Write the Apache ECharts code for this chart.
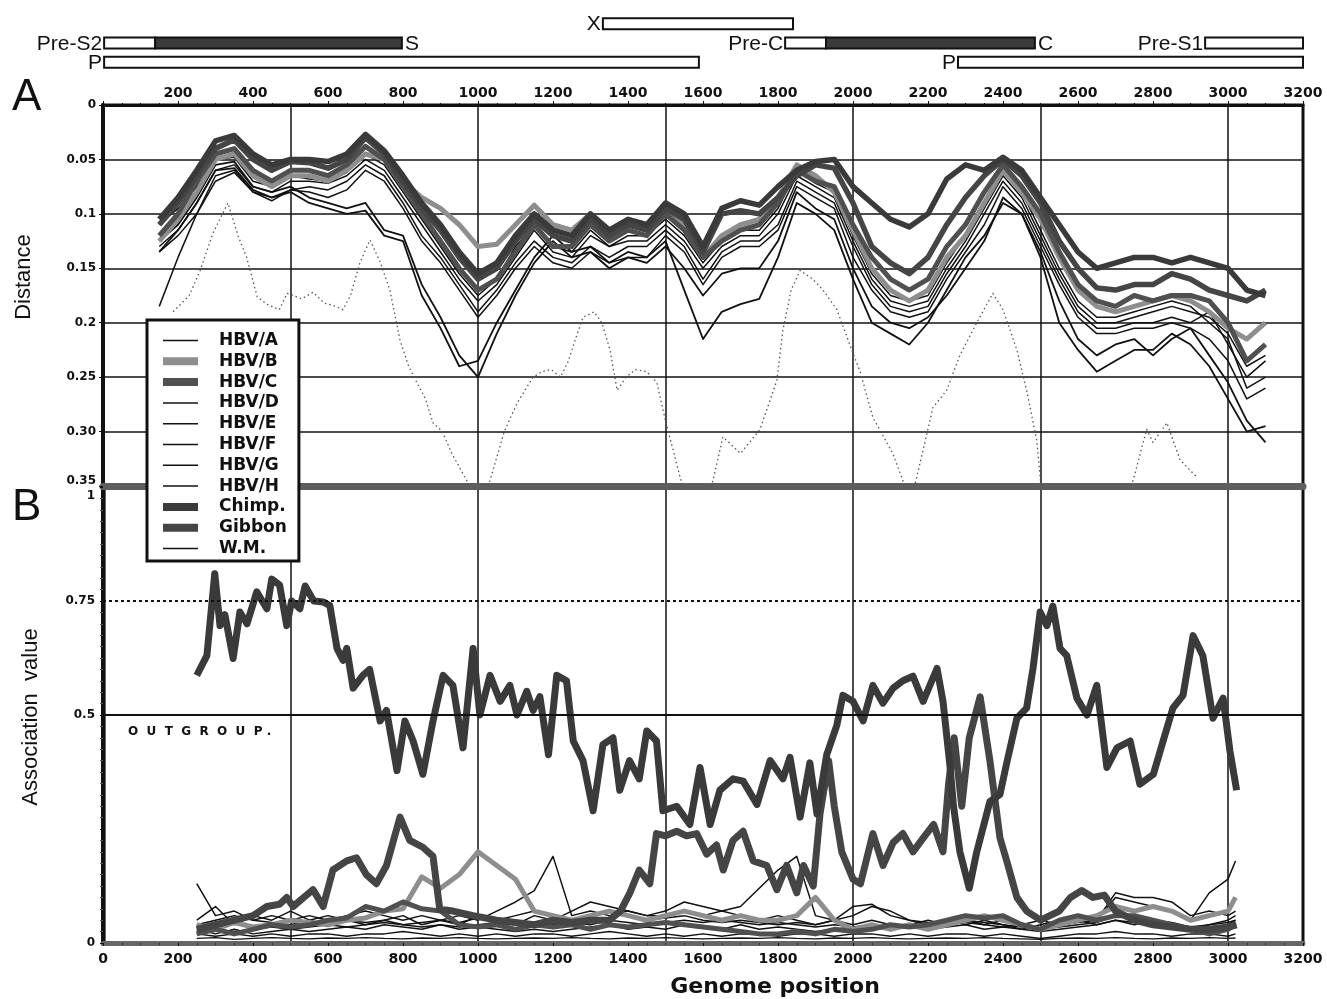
<!DOCTYPE html>
<html><head><meta charset="utf-8">
<script src="https://cdn.jsdelivr.net/npm/echarts@6.0.0/dist/echarts.min.js"></script>
<style>html,body{margin:0;padding:0;background:#fff;}#c{width:1327px;height:999px;}</style>
</head><body><div id="c"></div>
<script>
// ---------- legend / series names ----------
const seriesNames = ['HBV/A','HBV/B','HBV/C','HBV/D','HBV/E','HBV/F','HBV/G','HBV/H','Chimp.','Gibbon','W.M.'];

// ---------- tick labels ----------
const yLabelsA = ['0','0.05','0.1','0.15','0.2','0.25','0.30','0.35'];
const yLabelsB = ['0','','0.5','0.75','1'];

// ---------- gene map (genome positions) ----------
const geneLabel = ['X','Pre-S2','S','P','Pre-C','C','Pre-S1','P'];
const geneStart = [1333, 3, 139, 3, 1819, 1928, 2939, 2280];
const geneEnd   = [1840, 139, 797, 1589, 1928, 2485, 3200, 3200];
const geneRow   = [0, 1, 1, 2, 1, 1, 1, 2];
const geneDark  = [0, 0, 1, 0, 0, 1, 0, 0];
const geneLabelSide = ['left','left','right','left','left','right','left','left'];

// ---------- Panel A: distance ----------
const xsA = [150,200,250,300,350,400,450,500,550,600,
 650,700,750,800,850,900,950,1000,1050,1100,
 1150,1200,1250,1300,1350,1400,1450,1500,1550,1600,
 1650,1700,1750,1800,1850,1900,1950,2000,2050,2100,
 2150,2200,2250,2300,2350,2400,2450,2500,2550,2600,
 2650,2700,2750,2800,2850,2900,2950,3000,3050,3100];
const distA = [.13,.115,.09,.06,.055,.075,.08,.07,.07,.072,
 .065,.05,.06,.085,.11,.135,.16,.18,.165,.14,
 .115,.135,.14,.12,.13,.125,.125,.11,.125,.15,
 .13,.12,.12,.1,.065,.075,.085,.125,.16,.18,
 .185,.18,.15,.125,.095,.065,.085,.12,.155,.185,
 .2,.2,.195,.19,.185,.19,.195,.21,.24,.23];
const distB = [.125,.105,.08,.05,.045,.065,.075,.065,.065,.07,
 .06,.045,.05,.07,.085,.095,.11,.13,.128,.11,
 .092,.11,.115,.1,.115,.105,.11,.095,.11,.14,
 .12,.11,.105,.085,.055,.065,.08,.115,.15,.17,
 .18,.17,.14,.12,.09,.06,.08,.105,.14,.17,
 .185,.19,.185,.18,.175,.18,.19,.205,.215,.2];
const distC = [.12,.1,.07,.045,.04,.06,.07,.06,.06,.065,
 .055,.038,.05,.075,.1,.125,.15,.17,.16,.135,
 .11,.13,.13,.11,.125,.115,.12,.1,.115,.14,
 .125,.115,.11,.09,.06,.07,.075,.11,.14,.16,
 .17,.16,.13,.11,.08,.055,.075,.1,.135,.165,
 .18,.185,.175,.18,.175,.175,.18,.2,.235,.22];
const distD = [.135,.12,.1,.07,.062,.08,.088,.078,.075,.078,
 .07,.055,.065,.09,.12,.14,.165,.19,.17,.145,
 .125,.14,.145,.13,.14,.13,.13,.115,.13,.16,
 .135,.125,.125,.11,.07,.08,.09,.13,.165,.185,
 .19,.185,.155,.13,.1,.07,.09,.125,.16,.19,
 .205,.205,.2,.2,.195,.2,.19,.22,.25,.235];
const distE = [.11,.095,.075,.05,.048,.07,.075,.065,.068,.07,
 .062,.045,.055,.08,.105,.13,.155,.175,.16,.13,
 .11,.13,.135,.115,.13,.12,.12,.105,.12,.145,
 .125,.115,.115,.095,.06,.072,.08,.12,.155,.175,
 .18,.175,.145,.12,.09,.06,.08,.115,.15,.18,
 .195,.195,.19,.185,.18,.185,.2,.215,.26,.25];
const distF = [.135,.115,.09,.06,.058,.078,.085,.08,.09,.095,
 .1,.097,.12,.125,.175,.205,.24,.235,.2,.17,
 .14,.12,.135,.13,.145,.135,.14,.125,.17,.215,
 .19,.183,.178,.14,.09,.1,.115,.16,.2,.21,
 .22,.2,.17,.14,.12,.09,.1,.14,.2,.225,
 .245,.235,.225,.225,.21,.22,.24,.27,.3,.295];
const distG = [.185,.14,.1,.065,.06,.08,.085,.078,.08,.085,
 .078,.06,.07,.095,.125,.145,.17,.195,.175,.15,
 .13,.145,.15,.135,.145,.14,.14,.12,.135,.165,
 .14,.13,.13,.115,.075,.085,.095,.14,.17,.19,
 .195,.19,.16,.135,.11,.075,.095,.13,.165,.195,
 .21,.21,.205,.205,.2,.205,.215,.235,.27,.26];
const distH = [.125,.11,.085,.055,.052,.075,.08,.075,.085,.09,
 .095,.09,.115,.12,.165,.195,.23,.25,.21,.175,
 .145,.125,.14,.135,.15,.14,.145,.13,.15,.175,
 .155,.15,.15,.125,.08,.095,.105,.15,.185,.2,
 .205,.195,.175,.15,.125,.085,.1,.135,.18,.215,
 .23,.22,.215,.23,.215,.205,.23,.255,.29,.31];
const distChimp = [.105,.085,.06,.033,.028,.045,.055,.05,.05,.052,
 .045,.027,.042,.065,.09,.11,.135,.155,.145,.12,
 .1,.115,.12,.1,.115,.105,.11,.09,.1,.13,
 .095,.088,.092,.075,.06,.052,.05,.075,.09,.105,
 .112,.1,.068,.055,.06,.048,.06,.085,.11,.135,
 .15,.145,.14,.14,.145,.14,.145,.15,.17,.175];
const distGibbon = [.11,.09,.065,.04,.032,.05,.06,.052,.053,.058,
 .05,.03,.045,.07,.095,.115,.14,.16,.15,.125,
 .105,.12,.125,.105,.12,.11,.115,.095,.105,.135,
 .1,.097,.1,.085,.065,.055,.058,.09,.13,.145,
 .155,.14,.11,.085,.065,.05,.065,.09,.125,.15,
 .168,.17,.165,.165,.155,.16,.17,.175,.18,.17];
const wmXA = [187,230,259,293,333,360,383,411,437,470,
 491,530,560,590,613,640,660,685,712,740,
 765,792,815,837,860,880,905,930,970,1000,
 1032,1070,1104,1147,1170,1195,1220,1240,1260,1280,
 1310,1330,1352,1371,1395,1420,1450,1477,1500,1530,
 1560,1600,1630,1653,1700,1752,1797,1813,1835,1859,
 1893,1920,1957,2000,2019,2053,2106,2133,2150,2170,
 2213,2250,2285,2330,2373,2400,2437,2463,2490,2500,
 2520,2700,2747,2783,2800,2837,2872,2917];
const wmYA = [.19,.175,.152,.118,.09,.12,.14,.176,.183,.188,
 .173,.178,.172,.182,.184,.188,.175,.145,.124,.145,
 .17,.216,.24,.255,.27,.292,.3,.32,.345,.37,
 .345,.3,.274,.25,.245,.243,.25,.236,.215,.195,
 .19,.2,.225,.262,.25,.243,.245,.255,.29,.33,
 .37,.38,.34,.305,.32,.298,.253,.207,.17,.152,
 .16,.17,.188,.228,.245,.287,.32,.345,.37,.342,
 .278,.262,.23,.2,.173,.188,.225,.262,.308,.345,
 .38,.38,.345,.298,.31,.292,.326,.342];

// ---------- Panel B: association value ----------
const xsB = [250,300,350,400,450,500,550,600,650,700,
 750,800,850,900,950,1000,1050,1100,1150,1200,
 1250,1300,1350,1400,1450,1500,1550,1600,1650,1700,
 1750,1800,1850,1900,1950,2000,2050,2100,2150,2200,
 2250,2300,2350,2400,2450,2500,2550,2600,2650,2700,
 2750,2800,2850,2900,2950,3000,3020];
const assocA = [.13,.06,.07,.05,.06,.05,.06,.05,.06,.07,
 .06,.05,.06,.05,.06,.05,.07,.09,.115,.19,
 .06,.07,.06,.07,.06,.06,.07,.06,.07,.06,
 .05,.06,.05,.04,.05,.04,.05,.04,.04,.05,
 .04,.05,.04,.05,.04,.05,.04,.05,.04,.05,
 .04,.05,.04,.03,.03,.04,.05];
const assocB = [.04,.03,.045,.035,.04,.05,.045,.04,.05,.055,
 .07,.075,.145,.12,.15,.2,.17,.14,.07,.06,
 .05,.06,.07,.06,.05,.06,.07,.06,.05,.06,
 .05,.05,.06,.1,.05,.03,.04,.03,.04,.03,
 .04,.05,.06,.05,.04,.03,.04,.05,.06,.08,
 .07,.08,.07,.05,.06,.07,.1];
const assocC = [.02,.03,.02,.03,.04,.035,.04,.05,.055,.08,
 .07,.09,.075,.07,.04,.035,.04,.03,.04,.035,
 .04,.03,.04,.035,.04,.045,.04,.035,.03,.025,
 .02,.02,.025,.02,.03,.025,.03,.04,.035,.04,
 .05,.06,.055,.06,.04,.03,.05,.06,.05,.06,
 .06,.05,.04,.03,.02,.03,.04];
const assocD = [.05,.08,.04,.06,.05,.07,.05,.04,.05,.04,
 .05,.06,.04,.05,.04,.06,.05,.04,.06,.05,
 .07,.09,.08,.07,.06,.07,.09,.08,.07,.08,
 .12,.16,.19,.06,.05,.06,.08,.07,.05,.04,
 .05,.04,.05,.04,.03,.04,.05,.06,.05,.1,
 .09,.08,.07,.05,.11,.14,.18];
const assocE = [.03,.02,.03,.02,.025,.03,.025,.03,.035,.03,
 .04,.035,.03,.04,.03,.035,.03,.025,.03,.025,
 .03,.035,.04,.03,.035,.03,.04,.035,.03,.04,
 .03,.035,.03,.025,.03,.035,.03,.03,.035,.03,
 .035,.04,.03,.035,.03,.025,.03,.035,.04,.05,
 .045,.04,.035,.03,.04,.05,.06];
const assocF = [.02,.015,.02,.015,.02,.015,.02,.02,.015,.02,
 .02,.025,.02,.015,.02,.015,.02,.015,.02,.02,
 .015,.02,.025,.02,.015,.02,.015,.02,.015,.02,
 .02,.015,.02,.02,.015,.02,.02,.015,.02,.015,
 .02,.02,.015,.02,.015,.01,.015,.02,.02,.025,
 .02,.02,.015,.02,.02,.015,.02];
const assocG = [.04,.05,.06,.05,.045,.04,.05,.06,.05,.045,
 .05,.04,.045,.05,.045,.055,.05,.06,.07,.06,
 .05,.06,.07,.06,.05,.055,.06,.05,.045,.05,
 .045,.04,.045,.04,.05,.08,.085,.06,.05,.045,
 .04,.05,.045,.04,.035,.03,.04,.045,.05,.11,
 .1,.1,.09,.06,.07,.06,.07];
const assocH = [.025,.03,.025,.03,.035,.03,.035,.04,.035,.04,
 .045,.04,.035,.04,.035,.04,.045,.04,.035,.04,
 .045,.04,.05,.045,.04,.045,.05,.045,.05,.045,
 .04,.045,.04,.035,.04,.035,.04,.035,.04,.035,
 .04,.045,.04,.035,.04,.03,.035,.04,.045,.06,
 .055,.05,.045,.035,.04,.045,.05];
const assocWM = [.01,.012,.008,.01,.012,.01,.009,.011,.01,.012,
 .01,.009,.011,.01,.012,.01,.009,.01,.011,.01,
 .012,.01,.009,.011,.01,.012,.01,.009,.01,.011,
 .01,.012,.01,.009,.011,.01,.012,.01,.009,.01,
 .011,.01,.012,.01,.009,.008,.01,.011,.01,.012,
 .01,.009,.011,.01,.012,.01,.011];
const chimpBX = [250,277,298,312,325,347,365,384,410,437,
 450,471,490,503,525,539,562,587,605,624,
 640,650,667,693,711,739,756,784,805,827,
 853,880,907,933,960,987,1005,1032,1059,1085,
 1104,1130,1147,1165,1188,1210,1236,1254,1280,1307,
 1333,1360,1378,1404,1430,1450,1476,1493,1530,1565,
 1592,1619,1645,1680,1707,1744,1779,1813,1832,1859,
 1885,1904,1930,1957,1973,2000,2027,2053,2080,2107,
 2133,2160,2187,2224,2240,2259,2268,2285,2310,2330,
 2365,2392,2410,2437,2463,2480,2499,2517,2533,2552,
 2570,2597,2624,2650,2677,2704,2739,2765,2801,2827,
 2853,2880,2907,2933,2960,2987,3005,3023];
const chimpBY = [.587,.63,.81,.696,.72,.624,.726,.70,.77,.733,
 .798,.785,.696,.75,.733,.783,.75,.748,.74,.646,
 .62,.646,.559,.587,.6,.487,.51,.378,.487,.443,
 .37,.487,.587,.565,.428,.646,.5,.587,.53,.565,
 .5,.552,.51,.54,.413,.587,.575,.443,.4,.29,
 .435,.45,.335,.4,.36,.465,.443,.29,.3,.26,
 .385,.26,.335,.36,.355,.304,.4,.36,.407,.276,
 .395,.283,.413,.478,.543,.53,.487,.565,.526,.559,
 .575,.585,.53,.602,.53,.385,.3,.2,.12,.2,
 .31,.326,.395,.493,.515,.602,.726,.696,.739,.646,
 .63,.537,.5,.565,.385,.428,.443,.348,.37,.443,
 .515,.543,.674,.63,.493,.537,.422,.335];
const gibbonBX = [250,300,350,400,437,471,490,507,560,587,
 613,650,676,702,729,756,792,818,853,880,
 898,933,987,1050,1100,1150,1200,1250,1300,1350,
 1380,1405,1430,1458,1476,1500,1530,1556,1583,1610,
 1636,1654,1680,1707,1734,1770,1797,1823,1850,1868,
 1894,1912,1935,1950,1970,2000,2020,2053,2080,2107,
 2133,2160,2187,2215,2240,2255,2270,2290,2310,2339,
 2365,2392,2410,2437,2463,2500,2550,2580,2610,2640,
 2670,2700,2750,2800,2850,2900,2950,3000,3023];
const gibbonBY = [.03,.04,.05,.06,.08,.085,.1,.08,.117,.08,
 .16,.18,.187,.15,.13,.17,.276,.225,.21,.19,
 .074,.07,.06,.05,.045,.04,.05,.045,.05,.05,
 .07,.11,.16,.13,.24,.235,.245,.235,.24,.195,
 .215,.16,.225,.245,.18,.17,.117,.17,.11,.17,
 .125,.283,.4,.3,.2,.14,.13,.24,.17,.22,
 .24,.2,.23,.26,.2,.35,.45,.3,.45,.54,
 .4,.23,.18,.1,.07,.05,.07,.1,.115,.1,
 .105,.07,.05,.04,.035,.03,.03,.035,.04];

// ---------- build ----------
const FONT_NUM = '"DejaVu Sans", sans-serif';
const INK = '#111';
const pair = (xs, ys) => xs.map((x, i) => [x, ys[i]]);
function line(name, xs, ys, xi, yi, color, width, type) {
  return {
    name, type: 'line', xAxisIndex: xi, yAxisIndex: yi,
    data: pair(xs, ys), symbol: 'none', showSymbol: false, clip: true,
    lineStyle: { color, width, type: type || 'solid', join: 'round' },
    itemStyle: { color }, emphasis: { disabled: true }, animation: false, z: 2
  };
}

const seriesA = [
  line('W.M.', wmXA, wmYA, 0, 0, '#555', 1.3, [1.5, 3]),
  line('HBV/A', xsA, distA, 0, 0, INK, 1.5),
  line('HBV/D', xsA, distD, 0, 0, INK, 1.5),
  line('HBV/E', xsA, distE, 0, 0, INK, 1.5),
  line('HBV/G', xsA, distG, 0, 0, INK, 1.5),
  line('HBV/F', xsA, distF, 0, 0, INK, 1.8),
  line('HBV/H', xsA, distH, 0, 0, INK, 1.8),
  line('HBV/B', xsA, distB, 0, 0, '#8e8e8e', 5),
  line('HBV/C', xsA, distC, 0, 0, '#505050', 5),
  line('Gibbon', xsA, distGibbon, 0, 0, '#454545', 5.5),
  line('Chimp.', xsA, distChimp, 0, 0, '#3a3a3a', 5.5)
];
const chimpB = line('Chimp.', chimpBX, chimpBY, 2, 2, '#3a3a3a', 7);
chimpB.markLine = {
  silent: true, symbol: 'none', animation: false, label: { show: false },
  data: [
    { yAxis: 0.5, lineStyle: { type: 'solid', color: INK, width: 2 } },
    { yAxis: 0.75, lineStyle: { type: [3, 3], color: INK, width: 1.8 } }
  ]
};
const seriesB = [
  line('W.M.', xsB, assocWM, 2, 2, INK, 1.3),
  line('HBV/F', xsB, assocF, 2, 2, INK, 1.5),
  line('HBV/E', xsB, assocE, 2, 2, INK, 1.5),
  line('HBV/H', xsB, assocH, 2, 2, INK, 1.5),
  line('HBV/G', xsB, assocG, 2, 2, INK, 1.5),
  line('HBV/D', xsB, assocD, 2, 2, INK, 1.5),
  line('HBV/A', xsB, assocA, 2, 2, INK, 1.5),
  line('HBV/B', xsB, assocB, 2, 2, '#8e8e8e', 5),
  line('HBV/C', xsB, assocC, 2, 2, '#505050', 5),
  line('Gibbon', gibbonBX, gibbonBY, 2, 2, '#454545', 7),
  chimpB
];

const geneSeries = {
  type: 'custom', xAxisIndex: 4, yAxisIndex: 4, silent: true, animation: false, clip: false,
  data: geneStart.map((s, i) => [s, geneEnd[i], geneRow[i]]),
  renderItem: function (params, api) {
    const i = params.dataIndex;
    const p0 = api.coord([api.value(0), api.value(2)]);
    const p1 = api.coord([api.value(1), api.value(2)]);
    const h = 11;
    const children = [{
      type: 'rect',
      shape: { x: p0[0], y: p0[1] - h / 2, width: p1[0] - p0[0], height: h },
      style: { fill: geneDark[i] ? '#3a3a3a' : '#fff', stroke: INK, lineWidth: 2 }
    }];
    const left = geneLabelSide[i] === 'left';
    children.push({
      type: 'text', x: left ? p0[0] - 2 : p1[0] + 3, y: p0[1] + 1,
      style: { text: geneLabel[i], fill: INK, font: '21px "Liberation Sans", Arial, sans-serif',
               align: left ? 'right' : 'left', verticalAlign: 'middle' }
    });
    return { type: 'group', children };
  }
};

const numLabel = { fontFamily: FONT_NUM, fontWeight: 'bold', color: INK };
const plainNum = v => String(Math.round(v));

// legend icon looks (line samples) per entry
const legendLook = {
  'HBV/B': { color: '#8e8e8e', width: 8 },
  'HBV/C': { color: '#505050', width: 8 },
  'Chimp.': { color: '#3a3a3a', width: 8 },
  'Gibbon': { color: '#454545', width: 8 }
};

const option = {
  animation: false,
  backgroundColor: '#fff',
  grid: [
    { left: 103, right: 24, top: 105, height: 381, show: true, borderColor: INK, borderWidth: 3, backgroundColor: 'transparent' },
    { left: 103, right: 24, top: 487, height: 460, show: true, borderColor: INK, borderWidth: 3, backgroundColor: 'transparent' },
    { left: 103, right: 24, top: 14, height: 58 }
  ],
  xAxis: [
    { gridIndex: 0, type: 'value', position: 'top', min: 0, max: 3200, interval: 200,
      axisLine: { show: true, lineStyle: { color: INK, width: 3 } },
      axisTick: { show: true, length: 4, lineStyle: { color: INK } },
      minorTick: { show: true, splitNumber: 4, length: 2, lineStyle: { color: INK } },
      axisLabel: Object.assign({ fontSize: 14, margin: 5, showMinLabel: false, formatter: plainNum }, numLabel),
      splitLine: { show: false } },
    { gridIndex: 0, type: 'value', position: 'bottom', min: 0, max: 3200, interval: 500,
      axisLine: { show: true, lineStyle: { color: '#5e5e5e', width: 7 } },
      axisTick: { show: false }, axisLabel: { show: false },
      splitLine: { show: true, lineStyle: { color: INK, width: 1.5 } } },
    { gridIndex: 1, type: 'value', position: 'bottom', min: 0, max: 3200, interval: 200,
      axisLine: { show: true, lineStyle: { color: '#666', width: 5 } },
      axisTick: { show: true, length: 3, lineStyle: { color: INK } },
      minorTick: { show: true, splitNumber: 4, length: 2, lineStyle: { color: '#333' } },
      axisLabel: Object.assign({ fontSize: 14, margin: 9, formatter: plainNum }, numLabel),
      splitLine: { show: false },
      name: 'Genome position', nameLocation: 'middle', nameGap: 33,
      nameTextStyle: { fontFamily: FONT_NUM, fontWeight: 'bold', fontSize: 22, color: INK, padding: [0, 0, 0, 144] } },
    { gridIndex: 1, type: 'value', position: 'top', min: 0, max: 3200, interval: 500,
      axisLine: { show: false }, axisTick: { show: false }, axisLabel: { show: false },
      splitLine: { show: true, lineStyle: { color: INK, width: 1.5 } } },
    { gridIndex: 2, type: 'value', min: 0, max: 3200, show: false }
  ],
  yAxis: [
    { gridIndex: 0, type: 'value', inverse: true, min: 0, max: 0.35, interval: 0.05,
      axisLine: { show: true, lineStyle: { color: INK, width: 3 } },
      axisTick: { show: true, length: 4, lineStyle: { color: INK } },
      axisLabel: Object.assign({ fontSize: 12, margin: 7,
        formatter: v => { const k = Math.round(v * 20); return k === 7 ? '{u|' + yLabelsA[k] + '}' : yLabelsA[k]; },
        rich: { u: Object.assign({ fontSize: 12, padding: [0, 0, 10, 0] }, numLabel) } }, numLabel),
      splitLine: { show: true, lineStyle: { color: INK, width: 1.5 } } },
    { gridIndex: 0, type: 'value', position: 'right', min: 0, max: 1,
      axisLine: { show: true, lineStyle: { color: INK, width: 4 } },
      axisTick: { show: false }, axisLabel: { show: false }, splitLine: { show: false } },
    { gridIndex: 1, type: 'value', min: 0, max: 1, interval: 0.25,
      axisLine: { show: true, lineStyle: { color: '#666', width: 5 } },
      axisTick: { show: true, length: 3, lineStyle: { color: INK } },
      minorTick: { show: true, splitNumber: 10, length: 3, lineStyle: { color: '#555' } },
      axisLabel: Object.assign({ fontSize: 12, margin: 8,
        formatter: v => { const k = Math.round(v * 4); return k === 4 ? '{u|' + yLabelsB[k] + '}' : yLabelsB[k]; },
        rich: { u: Object.assign({ fontSize: 12, padding: [18, 0, 0, 0] }, numLabel) } }, numLabel),
      splitLine: { show: false } },
    { gridIndex: 1, type: 'value', position: 'right', min: 0, max: 1,
      axisLine: { show: true, lineStyle: { color: INK, width: 4 } },
      axisTick: { show: false }, axisLabel: { show: false }, splitLine: { show: false } },
    { gridIndex: 2, type: 'value', min: -0.5, max: 2.5, inverse: true, show: false }
  ],
  legend: {
    orient: 'vertical', left: 147, top: 320,
    itemWidth: 35, itemHeight: 14, itemGap: 3.8,
    padding: [12, 12, 4, 12],
    borderColor: INK, borderWidth: 3, backgroundColor: '#fff',
    selectedMode: false, z: 10,
    itemStyle: { color: 'rgba(0,0,0,0)', borderWidth: 0, opacity: 0 },
    textStyle: { fontFamily: FONT_NUM, fontWeight: 'bold', fontSize: 17, color: INK, padding: [0, 0, 0, 16], width: 73 },
    data: seriesNames.map(n => ({
      name: n,
      lineStyle: Object.assign({ type: 'solid', color: INK, width: 1.5, opacity: 1 }, legendLook[n] || {})
    }))
  },
  graphic: [
    { type: 'text', x: 12, y: 76, style: { text: 'A', font: '44px "Liberation Sans", Arial, sans-serif', fill: INK } },
    { type: 'text', x: 12, y: 486, style: { text: 'B', font: '44px "Liberation Sans", Arial, sans-serif', fill: INK } },
    { type: 'text', x: 24, y: 277, rotation: Math.PI / 2,
      style: { text: 'Distance', font: '22px "Liberation Sans Narrow", "Liberation Sans", Arial, sans-serif', fill: INK, align: 'center', verticalAlign: 'middle' } },
    { type: 'text', x: 31, y: 717, rotation: Math.PI / 2,
      style: { text: 'Association  value', font: '22px "Liberation Sans Narrow", "Liberation Sans", Arial, sans-serif', fill: INK, align: 'center', verticalAlign: 'middle' } },
    { type: 'text', x: 128, y: 726, z: 5,
      style: { text: 'O  U  T  G  R  O  U  P .', font: 'bold 12px "DejaVu Sans", sans-serif', fill: INK } }
  ],
  series: [geneSeries].concat(seriesA, seriesB)
};

const chart = echarts.init(document.getElementById('c'), null, { renderer: 'canvas' });
chart.setOption(option);
</script></body></html>
